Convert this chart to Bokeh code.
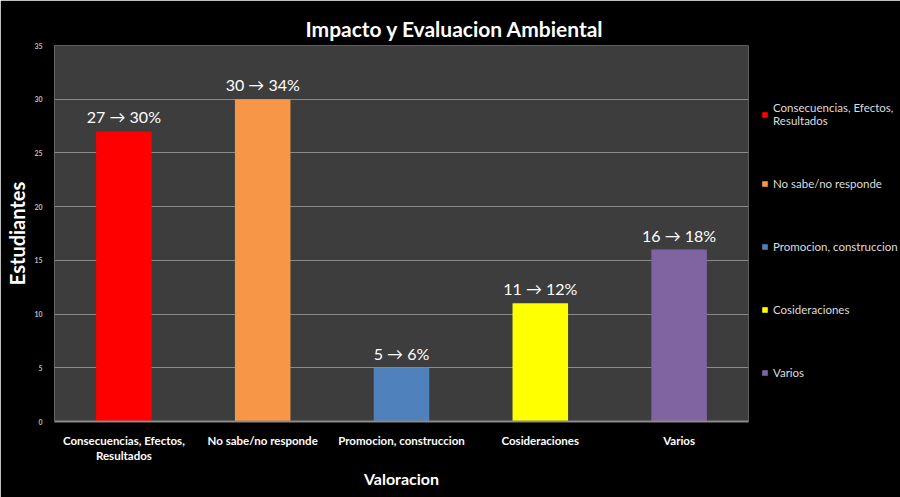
from bokeh.plotting import figure
from bokeh.models import ColumnDataSource, FactorRange, Legend, LegendItem, SingleIntervalTicker, Title, Range1d
from bokeh.embed import file_html
from bokeh.resources import INLINE
from bokeh.core.properties import value

categories = ["Consecuencias, Efectos,\nResultados", "No sabe/no responde",
              "Promocion, construccion", "Cosideraciones", "Varios"]
legend_labels = ["Consecuencias, Efectos,\nResultados", "No sabe/no responde",
                 "Promocion, construccion", "Cosideraciones", "Varios"]
counts = [27, 30, 5, 11, 16]
percents = [30, 34, 6, 12, 18]
colors = ["#FF0000", "#F79646", "#4F81BD", "#FFFF00", "#8064A2"]
bar_labels = [f"{c} \u2192 {p}%" for c, p in zip(counts, percents)]

FONT = "Lato"

src = ColumnDataSource(dict(x=categories, top=counts, color=colors, label=bar_labels))

p = figure(x_range=FactorRange(*categories, range_padding=0),
           y_range=Range1d(0, 35),
           frame_width=694, frame_height=376,
           min_border_left=54, min_border_right=152, min_border_top=45, min_border_bottom=76,
           output_backend="svg", toolbar_location=None, title=None)

p.background_fill_color = "#3d3d3d"
p.border_fill_color = "black"
p.outline_line_color = None

r = p.vbar(x="x", top="top", width=0.4, fill_color="color", line_color=None, source=src)
p.text(x="x", y="top", text="label", source=src, text_align="center", text_baseline="bottom",
       y_offset=-5, text_color="white", text_font=value(FONT), text_font_size="16px")

# title
t = Title(text="Impacto y Evaluacion Ambiental", align="left", offset=251,
          text_color="white", text_font=FONT, text_font_size="21px", text_font_style="bold")
p.add_layout(t, "above")

# axes
p.xgrid.grid_line_color = None
p.ygrid.grid_line_color = "#8a8a8a"
p.ygrid.grid_line_width = 1
p.yaxis.ticker = SingleIntervalTicker(interval=5)
p.yaxis.axis_label = "Estudiantes"
p.yaxis.axis_label_text_color = "white"
p.yaxis.axis_label_text_font = FONT
p.yaxis.axis_label_text_font_size = "20px"
p.yaxis.axis_label_text_font_style = "bold"
p.yaxis.axis_label_standoff = 2
p.yaxis.major_label_text_color = "#bdbdbd"
p.yaxis.major_label_text_font = FONT
p.yaxis.major_label_text_font_size = "7px"
p.yaxis.major_label_text_font_style = "bold"
p.yaxis.major_label_standoff = 6
p.yaxis.major_tick_line_color = None
p.yaxis.minor_tick_line_color = None
p.yaxis.axis_line_color = "#666666"

p.xaxis.axis_label = "Valoracion"
p.xaxis.axis_label_text_color = "white"
p.xaxis.axis_label_text_font = FONT
p.xaxis.axis_label_text_font_size = "16px"
p.xaxis.axis_label_text_font_style = "bold"
p.xaxis.axis_label_standoff = 4
p.xaxis.major_label_text_color = "white"
p.xaxis.major_label_text_font = FONT
p.xaxis.major_label_text_font_size = "11.5px"
p.xaxis.major_label_text_font_style = "bold"
p.xaxis.major_label_standoff = 6
p.xaxis.major_tick_line_color = None
p.xaxis.minor_tick_line_color = None
p.xaxis.axis_line_color = "#8a8a8a"
p.xaxis.axis_line_width = 2

items = [LegendItem(label=lab, renderers=[r], index=i) for i, lab in enumerate(legend_labels)]
legend = Legend(items=items, location=(13, 42), orientation="vertical",
                background_fill_color="black", background_fill_alpha=1, border_line_color=None,
                label_text_color="#dddddd", label_text_font=FONT, label_text_font_size="11.5px",
                label_text_line_height=1.1,
                glyph_width=7, glyph_height=7, label_height=14, label_standoff=5,
                spacing=49, padding=5, margin=10)
p.add_layout(legend, "right")

open("out.html", "w").write(file_html(p, INLINE))
